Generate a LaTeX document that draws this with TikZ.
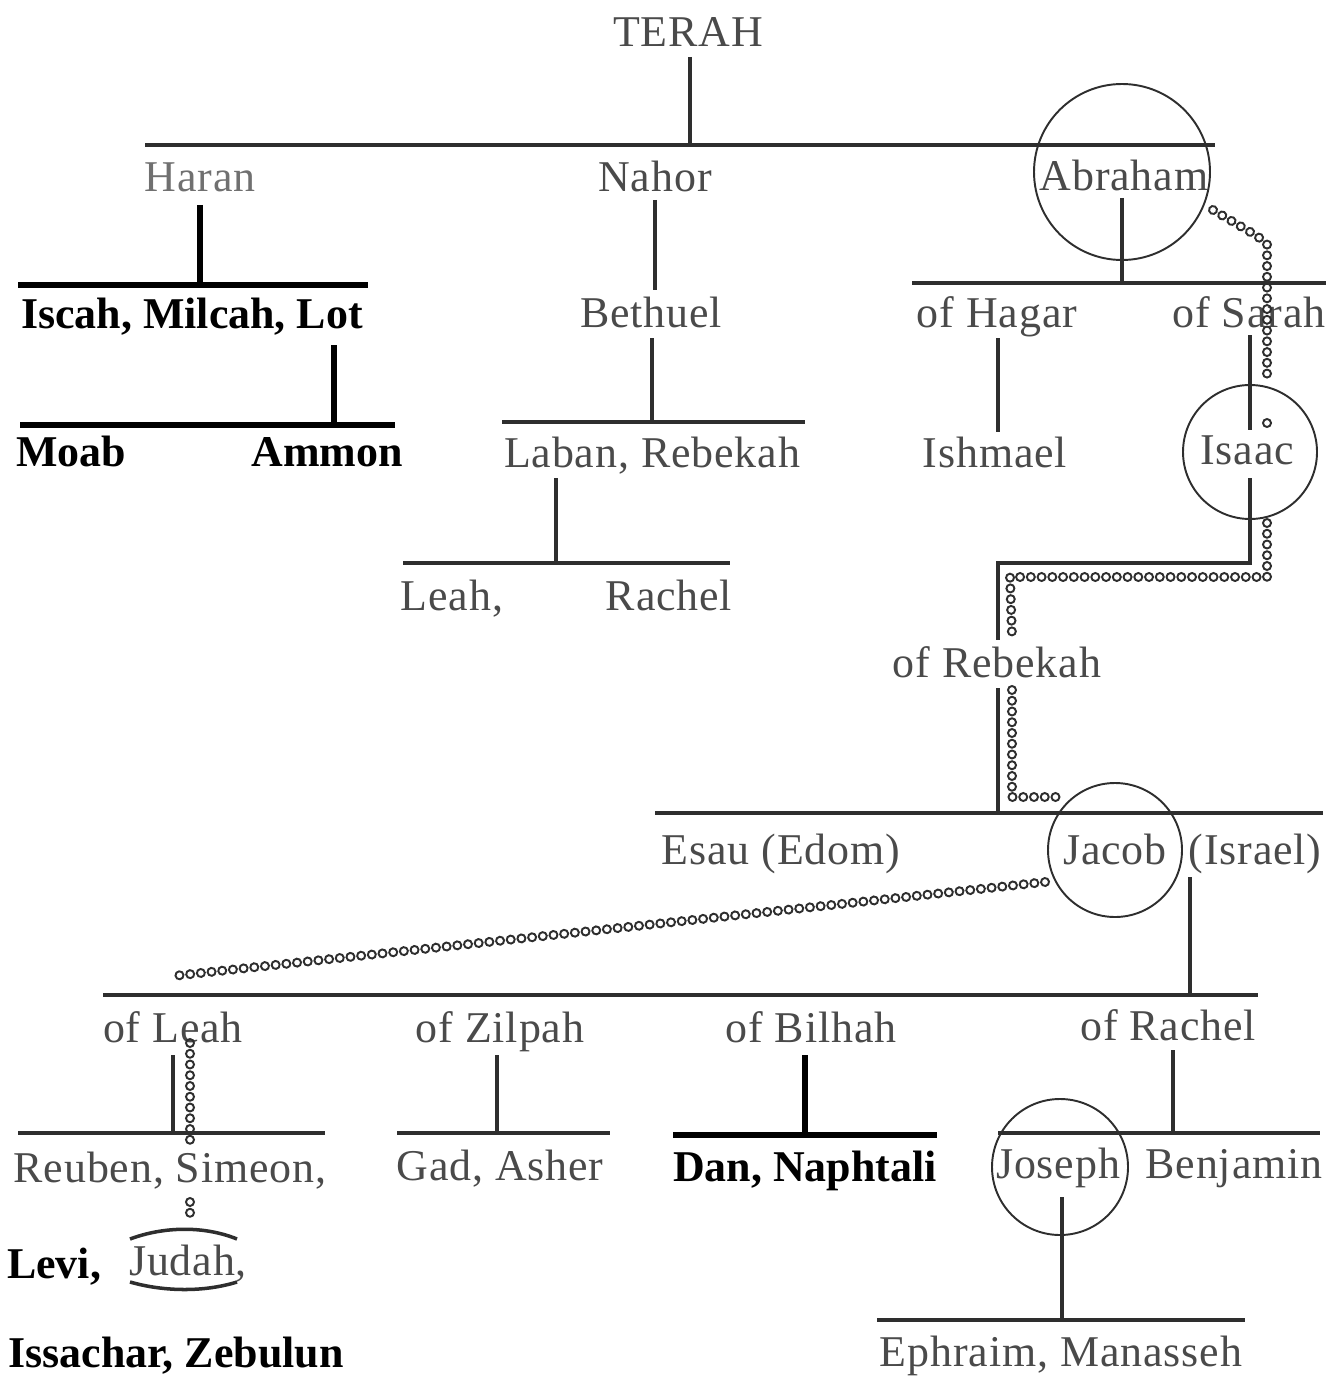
\documentclass[tikz,border=0pt]{standalone}
\usepackage{fontspec}
\setmainfont{Liberation Serif}[LetterSpace=2, BoldFeatures={LetterSpace=0}]
\usetikzlibrary{decorations.markings}
\definecolor{ink}{HTML}{2E2E2E}
\definecolor{greyink}{HTML}{4A4A4A}
\definecolor{paleink}{HTML}{707070}
\tikzset{
  person/.style={anchor=base, inner sep=0pt, text=greyink, font=\fontsize{25}{30}\selectfont},
  boldperson/.style={person, text=black, font=\fontsize{25}{30}\selectfont\bfseries},
  bar/.style={draw=ink, line width=2.8pt},
  heavybar/.style={draw=black, line width=3.8pt},
  ring/.style={draw=ink, line width=1.1pt},
  descent/.style={decorate, decoration={markings,
      mark=between positions 0 and 1 step 0.215cm with {\draw[ink, line width=1.1pt] (0,0) circle (0.08cm);}}},
}
\newcommand{\setup}{
    % generation of Terah
    \coordinate (terahS) at (690,57);   \coordinate (terahJ) at (690,145);
    \coordinate (genAl) at (145,145);   \coordinate (genAr) at (1215,145);
    % Haran and Lot
    \coordinate (haranS) at (200,205);  \coordinate (haranJ) at (200,285);
    \coordinate (haranL) at (18,285);   \coordinate (haranR) at (368,285);
    \coordinate (lotS) at (334,345);    \coordinate (lotJ) at (334,425);
    \coordinate (lotL) at (20,425);     \coordinate (lotR) at (395,425);
    % Nahor line
    \coordinate (nahorS) at (655,200);  \coordinate (nahorE) at (655,290);
    \coordinate (bethS) at (652,338);   \coordinate (bethJ) at (652,422);
    \coordinate (bethL) at (502,422);   \coordinate (bethR) at (805,422);
    \coordinate (labanS) at (556,478);  \coordinate (labanJ) at (556,563);
    \coordinate (labanL) at (403,563);  \coordinate (labanR) at (730,563);
    % Abraham line
    \coordinate (abrS) at (1122,198);   \coordinate (abrJ) at (1122,283);
    \coordinate (abrL) at (912,283);    \coordinate (abrR) at (1326,283);
    \coordinate (hagarS) at (998,338);  \coordinate (hagarE) at (998,432);
    \coordinate (sarahS) at (1250,335); \coordinate (sarahE) at (1250,430);
    \coordinate (isaacS) at (1250,478); \coordinate (isaacK) at (1250,563);
    \coordinate (rebK) at (998,563);    \coordinate (rebE) at (998,640);
    \coordinate (rebS) at (998,688);    \coordinate (rebJ) at (998,813);
    \coordinate (isaL) at (655,813);    \coordinate (isaR) at (1323,813);
    % sons of Jacob
    \coordinate (israelS) at (1190,877); \coordinate (israelJ) at (1190,995);
    \coordinate (jacL) at (103,995);    \coordinate (jacR) at (1258,995);
    \coordinate (leahS) at (173,1055);  \coordinate (leahJ) at (173,1133);
    \coordinate (leahL) at (18,1133);   \coordinate (leahR) at (325,1133);
    \coordinate (zilS) at (497,1055);   \coordinate (zilJ) at (497,1133);
    \coordinate (zilL) at (397,1133);   \coordinate (zilR) at (610,1133);
    \coordinate (bilS) at (805,1055);   \coordinate (bilJ) at (805,1135);
    \coordinate (bilL) at (673,1135);   \coordinate (bilR) at (937,1135);
    \coordinate (racS) at (1173,1050);  \coordinate (racJ) at (1173,1133);
    \coordinate (racL) at (998,1133);   \coordinate (racR) at (1320,1133);
    \coordinate (josS) at (1062,1197);  \coordinate (josJ) at (1062,1320);
    \coordinate (josL) at (877,1320);   \coordinate (josR) at (1245,1320);
}

\begin{document}
\begin{tikzpicture}[x=0.02cm, y=-0.02cm]
    \useasboundingbox (0,0) rectangle (1329,1378);
    \setup;

    % names
    \node[person] (terah) at (688,47) {TERAH};
    \node[person, text=paleink] (haran) at (200,192) {Haran};
    \node[person] (nahor) at (655,192) {Nahor};
    \node[person] (abraham) at (1124,191) {Abraham};
    \node[boldperson] (iml) at (192,328) {Iscah, Milcah, Lot};
    \node[boldperson] (moab) at (71,466) {Moab};
    \node[boldperson] (ammon) at (327,466) {Ammon};
    \node[person] (bethuel) at (651,327) {Bethuel};
    \node[person] (laban) at (652,467) {Laban, Rebekah};
    \node[person] (leah) at (452,610) {Leah,};
    \node[person] (rachel) at (669,610) {Rachel};
    \node[person] (hagar) at (997,327) {of Hagar};
    \node[person] (sarah) at (1249,327) {of Sarah};
    \node[person] (ishmael) at (995,467) {Ishmael};
    \node[person] (isaac) at (1247,464) {Isaac};
    \node[person] (rebekah) at (997,677) {of Rebekah};
    \node[person] (esau) at (781,864) {Esau (Edom)};
    \node[person] (jacob) at (1115,864) {Jacob};
    \node[person] (israel) at (1255,864) {(Israel)};
    \node[person] (ofleah) at (173,1042) {of Leah};
    \node[person] (ofzilpah) at (500,1042) {of Zilpah};
    \node[person] (ofbilhah) at (811,1042) {of Bilhah};
    \node[person] (ofrachel) at (1168,1040) {of Rachel};
    \node[person] (reuben) at (170,1182) {Reuben, Simeon,};
    \node[person] (gad) at (500,1180) {Gad, Asher};
    \node[boldperson] (dan) at (805,1181) {Dan, Naphtali};
    \node[person] (joseph) at (1058,1178) {Joseph};
    \node[person] (benjamin) at (1234,1178) {Benjamin};
    \node[boldperson] (levi) at (54,1278) {Levi,};
    \node[person] (judah) at (188,1275) {Judah,};
    \node[boldperson] (issachar) at (176,1367) {Issachar, Zebulun};
    \node[person] (ephraim) at (1061,1366) {Ephraim, Manasseh};

    % circled line of descent
    \draw[ring] (1122,172) circle (88);
    \draw[ring] (1250,452) circle (67);
    \draw[ring] (1115,850) circle (67);
    \draw[ring] (1060,1167) circle (68);

    % family bars
    \draw[bar] (terahS) -- (terahJ);
    \draw[bar] (genAl) -- (genAr);
    \draw[heavybar] (haranS) -- (haranJ);
    \draw[heavybar] (haranL) -- (haranR);
    \draw[heavybar] (lotS) -- (lotJ);
    \draw[heavybar] (lotL) -- (lotR);
    \draw[bar] (nahorS) -- (nahorE);
    \draw[bar] (bethS) -- (bethJ);
    \draw[bar] (bethL) -- (bethR);
    \draw[bar] (labanS) -- (labanJ);
    \draw[bar] (labanL) -- (labanR);
    \draw[bar] (abrS) -- (abrJ);
    \draw[bar] (abrL) -- (abrR);
    \draw[bar] (hagarS) -- (hagarE);
    \draw[bar] (sarahS) -- (sarahE);
    \draw[bar] (isaacS) -- (isaacK) -- (rebK) -- (rebE);
    \draw[bar] (rebS) -- (rebJ);
    \draw[bar] (isaL) -- (isaR);
    \draw[bar] (israelS) -- (israelJ);
    \draw[bar] (jacL) -- (jacR);
    \draw[bar] (leahS) -- (leahJ);
    \draw[bar] (leahL) -- (leahR);
    \draw[bar] (zilS) -- (zilJ);
    \draw[bar] (zilL) -- (zilR);
    \draw[heavybar] (bilS) -- (bilJ);
    \draw[heavybar] (bilL) -- (bilR);
    \draw[bar] (racS) -- (racJ);
    \draw[bar] (racL) -- (racR);
    \draw[bar] (josS) -- (josJ);
    \draw[bar] (josL) -- (josR);

    % chain of the promise
    \draw[descent] (1213,210) -- (1257,236) -- (1267,244) -- (1267,382);
    \draw[ink, line width=1.1pt] (1267,423) circle (0.08cm);
    \draw[descent] (1267,523) -- (1267,577) -- (1010,577) -- (1012,636);
    \draw[descent] (1012,690) -- (1012,797) -- (1058,797);
    \draw[descent] (1045,882) -- (173,976);
    \draw[descent] (190,1043) -- (190,1140);
    \draw[descent] (190,1202) -- (190,1216);

    % Judah bracket
    \draw[ink, line width=2pt] (130,1239) .. controls (165,1226) and (205,1226) .. (237,1239);
    \draw[ink, line width=2pt] (130,1282) .. controls (165,1292) and (205,1292) .. (237,1282);
\end{tikzpicture}
\end{document}
